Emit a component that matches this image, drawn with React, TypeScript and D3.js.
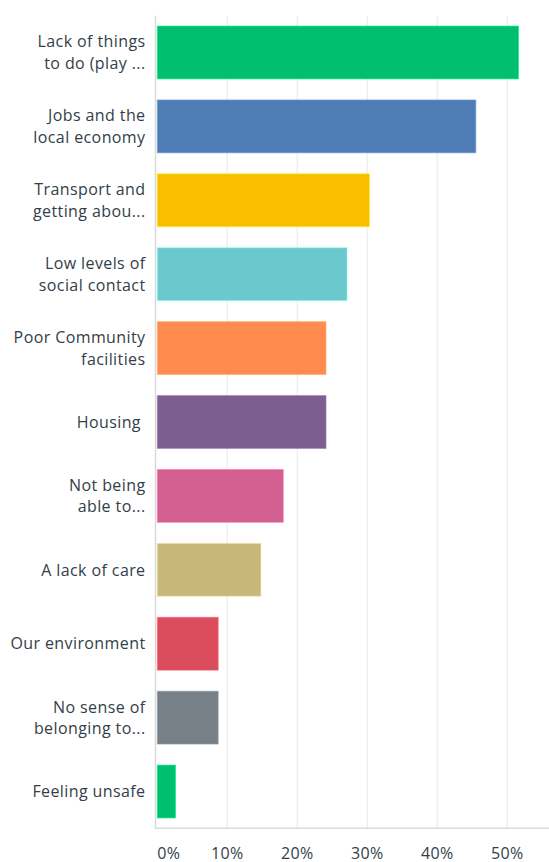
import React from "react";
import * as d3 from "d3";

const categories: string[][] = [
  ["Lack of things", "to do (play ..."],
  ["Jobs and the", "local economy"],
  ["Transport and", "getting abou..."],
  ["Low levels of", "social contact"],
  ["Poor Community", "facilities"],
  ["Housing "],
  ["Not being", "able to..."],
  ["A lack of care"],
  ["Our environment"],
  ["No sense of", "belonging to..."],
  ["Feeling unsafe"],
];

const values: number[] = [51.6, 45.5, 30.3, 27.1, 24.1, 24.1, 18.0, 14.8, 8.7, 8.7, 2.6];

const colors: string[] = [
  "#00bf6f",
  "#507cb6",
  "#f9be00",
  "#6bc8cd",
  "#ff8b4f",
  "#7d5e90",
  "#d25f90",
  "#c7b879",
  "#db4d5c",
  "#768086",
  "#00bf6f",
];

const ticks: number[] = [0, 10, 20, 30, 40, 50];

const W = 549;
const H = 862;
const plotLeft = 157.3;
const plotTop = 15.7;
const plotBottom = 828.3;
const textColor = "#333e48";
const font = "'Open Sans', sans-serif";

export default function App() {
  const x = d3.scaleLinear().domain([0, 10]).range([plotLeft, plotLeft + 70]);
  const y = d3
    .scaleBand<number>()
    .domain(d3.range(values.length))
    .range([plotTop, plotBottom])
    .paddingInner(0.285)
    .paddingOuter(0.14);
  const lineH = 21.6;

  return (
    <svg
      width={W}
      height={H}
      style={{ position: "absolute", left: 0, top: 0, background: "#fff" }}
    >
      {/* vertical gridlines */}
      {ticks.slice(1).map((t) => (
        <line
          key={"g" + t}
          x1={x(t)}
          x2={x(t)}
          y1={plotTop}
          y2={plotBottom}
          stroke="#efefef"
          strokeWidth={1.5}
        />
      ))}
      {/* bars */}
      {values.map((v, i) => (
        <rect
          key={"b" + i}
          x={x(0)}
          y={y(i)!}
          width={x(v) - x(0)}
          height={y.bandwidth()}
          fill={colors[i]}
          stroke={d3.color(colors[i])!.brighter(0.6).formatHex()}
          strokeOpacity={0.6}
          strokeWidth={1}
        />
      ))}
      {/* axis lines */}
      <line x1={155.5} x2={155.5} y1={plotTop} y2={plotBottom} stroke="#d9d9d9" strokeWidth={1.5} />
      <line x1={155} x2={W} y1={plotBottom} y2={plotBottom} stroke="#d9d9d9" strokeWidth={1.5} />
      {/* category labels */}
      {categories.map((lines, i) => {
        const cy = y(i)! + y.bandwidth() / 2;
        const startY = cy - ((lines.length - 1) * lineH) / 2;
        return (
          <text
            key={"l" + i}
            textAnchor="end"
            fontFamily={font}
            fontSize={16}
            letterSpacing={0.4}
            fill={textColor}
            style={{ whiteSpace: "pre" }}
          >
            {lines.map((ln, j) => (
              <tspan key={j} x={145.5} y={startY + j * lineH} dy="0.36em">
                {ln}
              </tspan>
            ))}
          </text>
        );
      })}
      {/* tick labels */}
      {ticks.map((t) => (
        <text
          key={"t" + t}
          x={t === 0 ? x(0) : x(t)}
          y={858.5}
          textAnchor={t === 0 ? "start" : "middle"}
          fontFamily={font}
          fontSize={16}
          letterSpacing={0.4}
          fill={textColor}
        >
          {t + "%"}
        </text>
      ))}
    </svg>
  );
}
